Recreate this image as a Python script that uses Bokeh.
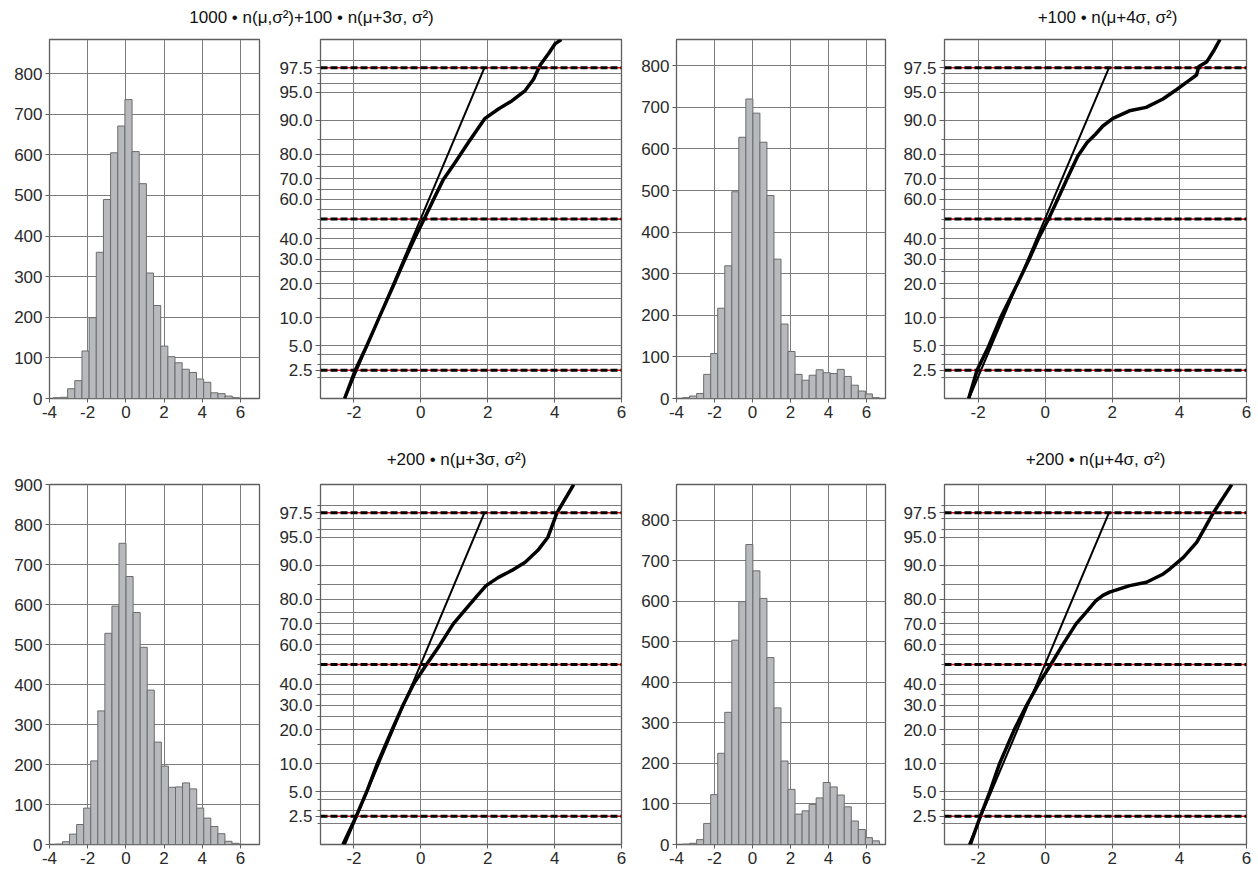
import numpy as np
from statistics import NormalDist
from bokeh.plotting import figure
from bokeh.layouts import column, row
from bokeh.models import Range1d, FixedTicker, Span
from bokeh.core.properties import value
from bokeh.embed import file_html
from bokeh.resources import INLINE

FONT = "Liberation Sans"

# ---------------- data ----------------
titles_top = ["1000 \u2022 n(\u03bc,\u03c3\u00b2)+100 \u2022 n(\u03bc+3\u03c3, \u03c3\u00b2)",
              "+100 \u2022 n(\u03bc+4\u03c3, \u03c3\u00b2)"]
titles_bottom = ["+200 \u2022 n(\u03bc+3\u03c3, \u03c3\u00b2)",
                 "+200 \u2022 n(\u03bc+4\u03c3, \u03c3\u00b2)"]

hist_xticks = [-4, -2, 0, 2, 4, 6]
hist_yticks_800 = [0, 100, 200, 300, 400, 500, 600, 700, 800]
hist_yticks_900 = [0, 100, 200, 300, 400, 500, 600, 700, 800, 900]
prob_xticks = [-2, 0, 2, 4, 6]
prob_label_pct = [2.5, 5, 10, 20, 30, 40, 60, 70, 80, 90, 95, 97.5]
prob_grid_pct = [2, 2.5, 3, 4, 5, 10, 15, 20, 25, 30, 35, 40, 45, 50, 55,
                 60, 65, 70, 75, 80, 85, 90, 95, 96, 97, 97.5, 98]
limit_pct = [2.5, 50, 97.5]

# histograms: counts per bin, first bin edge, bin width
hist1_counts = [2, 3, 24, 44, 117, 199, 360, 490, 605, 671, 736, 608, 529,
                309, 229, 129, 103, 88, 72, 64, 48, 40, 14, 12, 6, 2]
hist1_start, hist1_width = -3.8, 0.375

hist3_counts = [2, 6, 12, 58, 108, 217, 319, 497, 628, 720, 686, 616, 488,
                335, 179, 113, 58, 44, 56, 69, 62, 60, 70, 53, 32, 18, 11, 2]
hist3_start, hist3_width = -3.68, 0.37

hist5_counts = [1, 7, 26, 50, 91, 209, 334, 528, 596, 753, 670, 580, 493,
                386, 256, 196, 143, 144, 154, 139, 91, 66, 45, 27, 8, 3]
hist5_start, hist5_width = -3.69, 0.37

hist7_counts = [1, 3, 12, 52, 123, 225, 326, 504, 599, 740, 675, 607, 461,
                337, 206, 136, 75, 83, 99, 115, 153, 142, 122, 93, 58, 37, 17, 9]
hist7_start, hist7_width = -3.68, 0.37

# probability plots: cumulative percent vs value
ref_pct = [1.0, 97.5]
ref_x = [-2.27, 1.90]

prob2_pct = [1, 2.5, 5, 10, 20, 30, 40, 50, 60, 69.5, 76.7, 83.9, 90.4, 92.3, 93.7,
             95.2, 96.5, 97.7, 98.4, 98.85, 99]
prob2_x = [-2.28, -1.96, -1.62, -1.25, -0.80, -0.48, -0.19, 0.10, 0.38, 0.67, 1.02, 1.42,
           1.92, 2.32, 2.72, 3.12, 3.37, 3.57, 3.82, 4.02, 4.20]

prob4_pct = [1, 2.5, 5, 10, 20, 30, 40, 50, 60, 70.5, 79.2, 83.9, 86.4, 88.6, 90.4,
             91.96, 92.6, 94.0, 95.3, 96.3, 96.9, 97.6, 97.9, 98.5, 99]
prob4_x = [-2.28, -2.03, -1.68, -1.33, -0.83, -0.48, -0.20, 0.10, 0.37, 0.67, 0.97, 1.25,
           1.50, 1.72, 2.02, 2.51, 3.01, 3.51, 3.91, 4.26, 4.51, 4.58, 4.81, 5.01, 5.21]

prob6_pct = [1, 2.5, 5, 10, 20, 30, 40, 50, 60, 70, 76.4, 80.8, 84.6, 87, 88.8, 90.7, 93,
             95, 97.5, 99]
prob6_x = [-2.33, -1.93, -1.62, -1.30, -0.86, -0.53, -0.22, 0.17, 0.57, 0.97, 1.35, 1.65,
           1.95, 2.32, 2.72, 3.12, 3.50, 3.80, 4.07, 4.57]

prob8_pct = [1, 2.5, 5, 10, 20, 30, 40, 50, 60, 70, 75, 79.6, 81.4, 82.5, 84.6, 85.6,
             87.9, 89.2, 91.7, 94.3, 97.5, 99]
prob8_x = [-2.23, -1.93, -1.65, -1.36, -0.92, -0.55, -0.20, 0.17, 0.52, 0.92, 1.22, 1.52,
           1.72, 1.92, 2.52, 3.02, 3.52, 3.72, 4.12, 4.52, 5.01, 5.56]

# ---------------- helpers ----------------
ND = NormalDist()


def probit(pcts):
    return [ND.inv_cdf(p / 100.0) for p in pcts]


GRID = "#7c7c7c"
FRAME = "#5e5e5e"
LABEL = "#2a2a2a"


def base_fig(w, h, xr, yr, ml, mr, mt, mb):
    p = figure(width=w, height=h, x_range=xr, y_range=yr, output_backend="svg",
               toolbar_location=None, title=None,
               min_border_left=ml, min_border_right=mr,
               min_border_top=mt, min_border_bottom=mb)
    p.background_fill_color = "white"
    p.border_fill_color = "white"
    p.outline_line_color = FRAME
    p.outline_line_width = 1.3
    for ax in (p.xaxis, p.yaxis):
        ax.axis_line_color = None
        ax.major_label_text_font = FONT
        ax.major_label_text_font_size = "17px"
        ax.major_label_text_color = LABEL
        ax.major_tick_out = 4
        ax.major_tick_in = 0
        ax.major_tick_line_color = FRAME
        ax.minor_tick_line_color = None
        ax.major_label_standoff = 3
    for g in (p.xgrid, p.ygrid):
        g.grid_line_color = GRID
        g.grid_line_width = 1
    return p


def plain_labels(ticks):
    return {t: str(t) for t in ticks}


def make_hist(counts, start, width, ymax, yticks, w, h, ml, mr, mt, mb):
    p = base_fig(w, h, Range1d(-4, 7), Range1d(0, ymax), ml, mr, mt, mb)
    edges = start + width * np.arange(len(counts) + 1)
    p.quad(left=edges[:-1], right=edges[1:], bottom=0, top=counts,
           fill_color="#b7b9bc", line_color="#6c6c6c", line_width=1)
    p.xaxis.ticker = FixedTicker(ticks=hist_xticks)
    p.xaxis.major_label_overrides = plain_labels(hist_xticks)
    p.xgrid.ticker = FixedTicker(ticks=hist_xticks)
    p.yaxis.ticker = FixedTicker(ticks=yticks)
    p.ygrid.ticker = FixedTicker(ticks=yticks)
    return p


def make_prob(pct, xs, w, h, ml, mr, mt, mb):
    z_lo, z_hi = ND.inv_cdf(0.01), ND.inv_cdf(0.99)
    p = base_fig(w, h, Range1d(-3, 6), Range1d(z_lo, z_hi), ml, mr, mt, mb)
    p.xaxis.ticker = FixedTicker(ticks=prob_xticks)
    p.xaxis.major_label_overrides = plain_labels(prob_xticks)
    p.xgrid.ticker = FixedTicker(ticks=prob_xticks)
    lab_z = probit(prob_label_pct)
    grid_z = probit(prob_grid_pct)
    p.yaxis.ticker = FixedTicker(ticks=lab_z, minor_ticks=grid_z)
    p.yaxis.major_label_overrides = {z: f"{q:.1f}" for z, q in zip(lab_z, prob_label_pct)}
    p.yaxis.minor_tick_line_color = FRAME
    p.yaxis.minor_tick_out = 3
    p.yaxis.minor_tick_in = 0
    p.yaxis.major_tick_out = 5
    p.ygrid.ticker = FixedTicker(ticks=grid_z)
    for zl in probit(limit_pct):
        p.add_layout(Span(location=zl, dimension="width", line_color="#e01010",
                          line_width=1.5))
        p.add_layout(Span(location=zl, dimension="width", line_color="black",
                          line_width=3, line_dash="7 3"))
    p.line(ref_x, probit(ref_pct), line_color="black", line_width=2)
    p.line(xs, probit(pct), line_color="black", line_width=3.5, line_join="round")
    return p


def make_strip(w, h, texts, xs, ys):
    p = figure(width=w, height=h, x_range=Range1d(0, w), y_range=Range1d(h, 0),
               output_backend="svg", toolbar_location=None, title=None,
               x_axis_type=None, y_axis_type=None, min_border=0)
    p.outline_line_color = None
    p.grid.visible = False
    p.background_fill_color = "white"
    p.border_fill_color = "white"
    p.text(x=xs, y=ys, text=texts, text_font=value(FONT), text_font_size="17px",
           text_align="center", text_baseline="middle", text_color="#111111")
    return p


# ---------------- layout ----------------
W1, W2, W3, W4 = 265, 365, 262, 366
H_TOP, H_BOT = 410, 405

strip_top = make_strip(1258, 30, titles_top, [311, 1107], [17, 17])
strip_bot = make_strip(1258, 35, titles_bottom, [456, 1095], [19, 19])

p1 = make_hist(hist1_counts, hist1_start, hist1_width, 884, hist_yticks_800,
               W1, H_TOP, 49, 6, 3, 40)
p2 = make_prob(prob2_pct, prob2_x, W2, H_TOP, 55, 9, 8, 42)
p3 = make_hist(hist3_counts, hist3_start, hist3_width, 863, hist_yticks_800,
               W3, H_TOP, 46, 7, 9, 40)
p4 = make_prob(prob4_pct, prob4_x, W4, H_TOP, 52, 12, 8, 42)

p5 = make_hist(hist5_counts, hist5_start, hist5_width, 900, hist_yticks_900,
               W1, H_BOT, 49, 6, 8, 33)
p6 = make_prob(prob6_pct, prob6_x, W2, H_BOT, 55, 9, 9, 36)
p7 = make_hist(hist7_counts, hist7_start, hist7_width, 888, hist_yticks_800,
               W3, H_BOT, 46, 7, 9, 36)
p8 = make_prob(prob8_pct, prob8_x, W4, H_BOT, 52, 12, 9, 36)

layout = column(strip_top, row(p1, p2, p3, p4), strip_bot, row(p5, p6, p7, p8),
                spacing=0)

open("out.html", "w").write(file_html(layout, INLINE))
